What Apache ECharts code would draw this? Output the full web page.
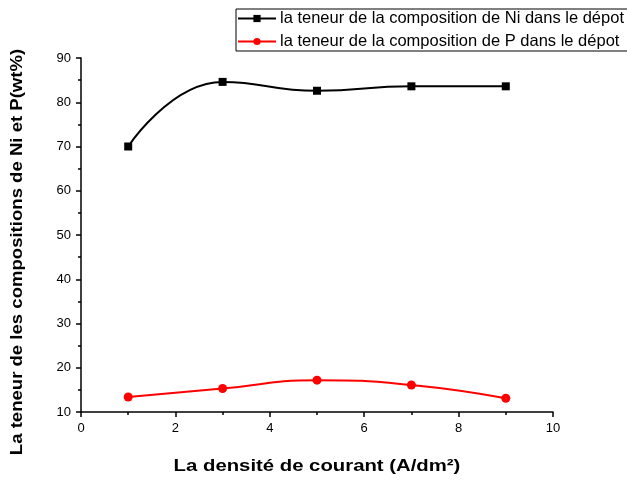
<!DOCTYPE html>
<html>
<head>
<meta charset="utf-8">
<script src="https://cdn.jsdelivr.net/npm/echarts@6/dist/echarts.min.js"></script>
<style>
  html, body { margin: 0; padding: 0; background: #fff; overflow: hidden; }
  #chart { width: 627px; height: 481px; }
</style>
</head>
<body>
<div id="chart"></div>
<script>
// Current density (A/dm²)
const currentDensity = [1, 3, 5, 7, 9];
// Ni content in the deposit (wt%)
const niContent = [70.0, 84.6, 82.6, 83.6, 83.6];
// P content in the deposit (wt%)
const pContent = [13.4, 15.3, 17.2, 16.1, 13.1];

const niName = 'la teneur de la composition de Ni dans le dépot';
const pName = 'la teneur de la composition de P dans le dépot';
const xTitle = 'La densité de courant (A/dm²)';
const yTitle = 'La teneur de les compositions de Ni et P(wt%)';

const font = 'Arial, "Liberation Sans", sans-serif';

const chart = echarts.init(document.getElementById('chart'), null, { renderer: 'canvas' });

const pairs = (xs, ys) => xs.map((x, i) => [x, ys[i]]);

const axisCommon = {
  axisLine: { show: true, lineStyle: { color: '#000', width: 1.5 } },
  axisTick: { show: true, inside: false, length: 5, lineStyle: { color: '#000', width: 1.5 } },
  minorTick: { show: true, splitNumber: 2, length: 3, lineStyle: { color: '#000', width: 1.5 } },
  axisLabel: { fontFamily: font, fontSize: 13, color: '#000', margin: 10 },
  splitLine: { show: false }
};

chart.setOption({
  animation: false,
  backgroundColor: '#fff',
  grid: { left: 81, right: 74, top: 58, bottom: 69, containLabel: false },
  legend: {
    orient: 'vertical',
    left: 236,
    top: 9,
    itemWidth: 38,
    itemHeight: 9,
    itemGap: 6,
    padding: [1, 8, 1, 1],
    borderColor: '#000',
    borderWidth: 1,
    borderRadius: 0,
    textStyle: { fontFamily: font, fontSize: 16.5, lineHeight: 16, color: '#000', padding: [0, 0, 0, -1] },
    data: [niName, pName]
  },
  // Axis titles drawn as free text so their width can be stretched a little
  graphic: [
    {
      type: 'text',
      x: 317, y: 467,
      scaleX: 1.27,
      style: {
        text: xTitle,
        font: 'bold 16px ' + font,
        fill: '#000',
        align: 'center',
        verticalAlign: 'middle'
      }
    },
    {
      type: 'text',
      x: 18, y: 252,
      rotation: Math.PI / 2,
      scaleX: 1.16,
      style: {
        text: yTitle,
        font: 'bold 16px ' + font,
        fill: '#000',
        align: 'center',
        verticalAlign: 'middle'
      }
    }
  ],
  xAxis: Object.assign({
    type: 'value',
    min: 0, max: 10, interval: 2
  }, axisCommon),
  yAxis: Object.assign({
    type: 'value',
    min: 10, max: 90, interval: 10
  }, axisCommon),
  series: [
    {
      name: niName,
      type: 'line',
      data: pairs(currentDensity, niContent),
      smooth: 0.5,
      symbol: 'rect',
      symbolSize: 8,
      itemStyle: { color: '#000' },
      lineStyle: { color: '#000', width: 2 }
    },
    {
      name: pName,
      type: 'line',
      data: pairs(currentDensity, pContent),
      smooth: 0.5,
      symbol: 'circle',
      symbolSize: 9,
      itemStyle: { color: '#ff0000' },
      lineStyle: { color: '#ff0000', width: 2 }
    }
  ]
});
</script>
</body>
</html>
